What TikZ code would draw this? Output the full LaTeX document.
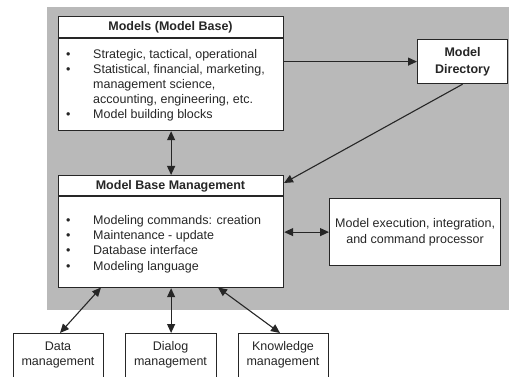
\documentclass[tikz,border=0pt]{standalone}
\usepackage{fontspec}
\setmainfont{Liberation Sans}
\usetikzlibrary{arrows.meta}
\definecolor{bggray}{RGB}{185,185,185}
\begin{document}
\begin{tikzpicture}[x=1pt,y=-1pt,
  box/.style={draw=black!85, line width=1.2pt, fill=white, inner sep=0pt, anchor=north west},
  conn/.style={draw=black!85, line width=1.1pt, -{Triangle[length=9pt,width=8pt]}},
  dconn/.style={draw=black!85, line width=1.1pt, {Triangle[length=9pt,width=8pt]}-{Triangle[length=9pt,width=8pt]}},
  txt/.style={font=\fontsize{12.5}{15}\selectfont, text=black!85, inner sep=0pt},
  hdr/.style={font=\fontsize{12.5}{15}\selectfont\bfseries, text=black!85, inner sep=0pt}]
\useasboundingbox (0,0) rectangle (509,377);
\fill[bggray] (47,7) rectangle (509,310);

% boxes
\node[box, minimum width=225pt, minimum height=114pt] (models) at (58,16) {};
\draw[black!85, line width=1.2pt] (58,38) -- (283,38);
\node[hdr] (modelshdr) at (170.5,27.5) {Models (Model Base)};
\node[txt, anchor=north west] (modelslist) at (66,47.5) {\begin{tabular}{@{}p{27pt}@{}l@{}}
\textbullet & Strategic, tactical, operational\\
\textbullet & Statistical, financial, marketing,\\
 & management science,\\
 & accounting, engineering, etc.\\
\textbullet & Model building blocks
\end{tabular}};

\node[box, minimum width=90pt, minimum height=44pt] (dir) at (417,39) {};
\node[hdr, align=center, font=\fontsize{12.5}{17}\selectfont\bfseries] (dirtxt) at (dir.center) {Model\\Directory};

\node[box, minimum width=225pt, minimum height=112pt] (mbm) at (58,175) {};
\draw[black!85, line width=1.2pt] (58,196) -- (283,196);
\node[hdr] (mbmhdr) at (170.5,186) {Model Base Management};
\node[txt, anchor=north west] (mbmlist) at (66,213.5) {\begin{tabular}{@{}p{27pt}@{}l@{}}
\textbullet & Modeling commands: creation\\[0.3pt]
\textbullet & Maintenance - update\\[0.3pt]
\textbullet & Database interface\\[0.3pt]
\textbullet & Modeling language
\end{tabular}};

\node[box, minimum width=171pt, minimum height=67pt] (exec) at (329,198) {};
\node[txt, align=center, font=\fontsize{12.5}{16}\selectfont] (exectxt) at (exec.center) {Model execution, integration,\\and command processor};

\node[box, minimum width=90pt, minimum height=50pt] (data) at (13,333) {};
\node[box, minimum width=91pt, minimum height=50pt] (dialog) at (125,333) {};
\node[box, minimum width=90pt, minimum height=50pt] (know) at (238,333) {};
\node[txt, align=center] (datatxt) at (58,354.5) {Data\\management};
\node[txt, align=center] (dialogtxt) at (170.5,354.5) {Dialog\\management};
\node[txt, align=center] (knowtxt) at (283,354.5) {Knowledge\\management};

% connectors
\coordinate (mbmin) at (284,183);
\coordinate (mbmdata) at (101,287.5);
\coordinate (mbmknow) at (218,287.5);
\coordinate (dataend) at (60,333);
\coordinate (knowend) at (280,333);
\draw[conn] (models.east |- dir.west) -- (dir.west);
\draw[conn] (dir.south) -- (mbmin);
\draw[dconn] (models.south) -- (mbm.north);
\draw[dconn] (mbm.east |- exec.west) -- (exec.west);
\draw[dconn] (mbmdata) -- (dataend);
\draw[dconn] (mbm.south) -- (dialog.north);
\draw[dconn] (mbmknow) -- (knowend);
\end{tikzpicture}
\end{document}
